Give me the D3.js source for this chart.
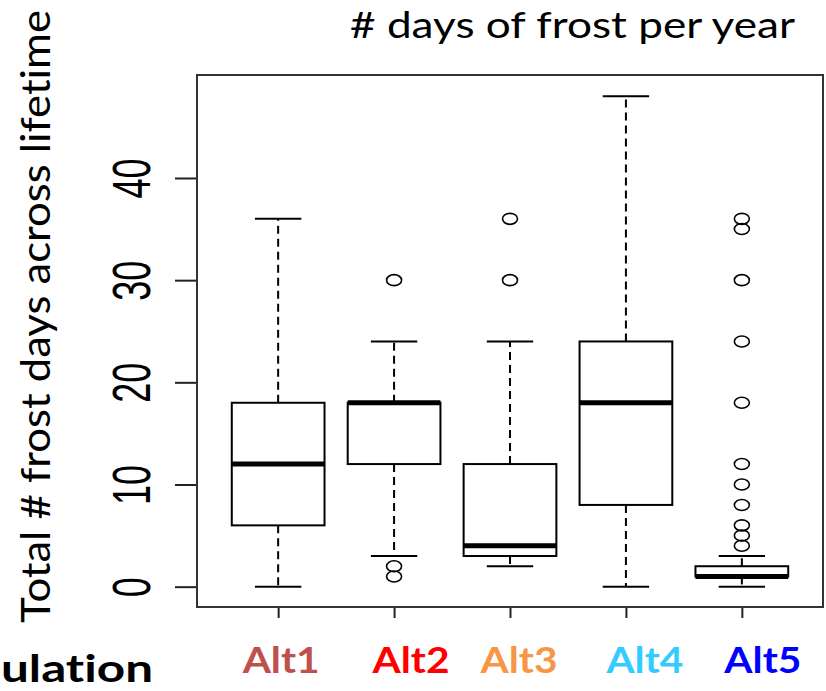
<!DOCTYPE html>
<html>
<head>
  <meta charset="utf-8">
  <style>
  body { margin: 0; background: #fff; }
  .axis .domain { display: none; }
  text { font-variant-ligatures: none; }
  </style>
  <script src="https://d3js.org/d3.v7.min.js"></script>
</head>
<body>
<script>
  // values
  var groups = ["Alt1", "Alt2", "Alt3", "Alt4", "Alt5"];
  var lowWhisker = [0, 3, 2, 0, 0];
  var q1 = [6, 12, 3, 8, 1];
  var medians = [12, 18, 4, 18, 1];
  var q3 = [18, 18, 12, 24, 2];
  var highWhisker = [36, 24, 24, 48, 3];
  var outliers = [[], [30, 2, 1], [36, 30], [], [36, 35, 30, 24, 18, 12, 10, 8, 6, 5, 4]];
  var yTicks = [0, 10, 20, 30, 40];

  var labelColors = ["#c0504d", "#ff0000", "#f79646", "#33ccff", "#0000ff"];
  var labelShift = [3, 17, 9, 19, 21];

  var canvasWidth = 826, canvasHeight = 691;
  var plot = {left: 197, right: 823, top: 75, bottom: 607};

  var svg = d3.select("body").append("svg")
      .attr("width", canvasWidth)
      .attr("height", canvasHeight);

  var x = d3.scaleLinear().domain([0.3, 5.7]).range([plot.left, plot.right]);
  var y = d3.scaleLinear().domain([-1.99, 50.08]).range([plot.bottom, plot.top]);

  var data = groups.map(function(g, i) {
    return {name: g, i: i + 1, lo: lowWhisker[i], q1: q1[i], med: medians[i],
            q3: q3[i], hi: highWhisker[i], out: outliers[i]};
  });

  // y axis, R style with rotated labels
  var yAxis = svg.append("g")
      .attr("class", "axis")
      .attr("transform", "translate(" + plot.left + ",0)")
      .call(d3.axisLeft(y).tickValues(yTicks).tickSize(22).tickFormat(d3.format("d")));
  yAxis.selectAll("line").attr("stroke", "#222").attr("stroke-width", 2);
  yAxis.selectAll("text")
      .attr("x", null).attr("dy", null)
      .attr("transform", "translate(-47,0) scale(1.5,1) rotate(-90)")
      .attr("text-anchor", "middle")
      .attr("font-family", "'Liberation Sans', Arial, sans-serif")
      .attr("font-size", 36)
      .attr("fill", "#000");

  // x axis ticks
  var xAxis = svg.append("g")
      .attr("class", "axis")
      .attr("transform", "translate(0," + plot.bottom + ")")
      .call(d3.axisBottom(x).tickValues(data.map(function(d) { return d.i; })).tickSize(11).tickFormat(""));
  xAxis.selectAll("line").attr("stroke", "#222").attr("stroke-width", 2);

  var box = svg.append("g").selectAll("g")
      .data(data)
      .enter().append("g");

  // whiskers
  box.append("line")
      .attr("x1", function(d) { return x(d.i); })
      .attr("x2", function(d) { return x(d.i); })
      .attr("y1", function(d) { return y(d.q3); })
      .attr("y2", function(d) { return y(d.hi); })
      .attr("stroke", "#000").attr("stroke-width", 2)
      .attr("stroke-dasharray", "8,5");
  box.append("line")
      .attr("x1", function(d) { return x(d.i); })
      .attr("x2", function(d) { return x(d.i); })
      .attr("y1", function(d) { return y(d.q1); })
      .attr("y2", function(d) { return y(d.lo); })
      .attr("stroke", "#000").attr("stroke-width", 2)
      .attr("stroke-dasharray", "8,5");

  // caps
  ["lo", "hi"].forEach(function(k) {
    box.append("line")
        .attr("x1", function(d) { return x(d.i - 0.2); })
        .attr("x2", function(d) { return x(d.i + 0.2); })
        .attr("y1", function(d) { return y(d[k]); })
        .attr("y2", function(d) { return y(d[k]); })
        .attr("stroke", "#000").attr("stroke-width", 2);
  });

  // boxes
  box.append("rect")
      .attr("x", function(d) { return x(d.i - 0.4); })
      .attr("width", function(d) { return x(d.i + 0.4) - x(d.i - 0.4); })
      .attr("y", function(d) { return y(d.q3); })
      .attr("height", function(d) { return y(d.q1) - y(d.q3); })
      .attr("fill", "#fff")
      .attr("stroke", "#000").attr("stroke-width", 2);

  // medians
  box.append("line")
      .attr("x1", function(d) { return x(d.i - 0.4); })
      .attr("x2", function(d) { return x(d.i + 0.4); })
      .attr("y1", function(d) { return y(d.med); })
      .attr("y2", function(d) { return y(d.med); })
      .attr("stroke", "#000").attr("stroke-width", 5);

  // outliers
  box.selectAll("ellipse")
      .data(function(d) { return d.out.map(function(v) { return {i: d.i, v: v}; }); })
      .enter().append("ellipse")
      .attr("cx", function(d) { return x(d.i); })
      .attr("cy", function(d) { return y(d.v); })
      .attr("rx", 7.5).attr("ry", 5.5)
      .attr("fill", "none")
      .attr("stroke", "#000").attr("stroke-width", 1.6);

  // frame
  svg.append("rect")
      .attr("x", plot.left).attr("y", plot.top)
      .attr("width", plot.right - plot.left)
      .attr("height", plot.bottom - plot.top)
      .attr("fill", "none")
      .attr("stroke", "#333").attr("stroke-width", 2);

  // group labels
  svg.append("g").selectAll("text")
      .data(data)
      .enter().append("text")
      .attr("x", function(d, i) { return x(d.i) + labelShift[i]; })
      .attr("y", 673)
      .attr("text-anchor", "middle")
      .attr("font-family", "Lato, sans-serif")
      .attr("font-weight", "bold")
      .attr("font-size", 37)
      .attr("textLength", 77)
      .attr("lengthAdjust", "spacingAndGlyphs")
      .attr("fill", function(d, i) { return labelColors[i]; })
      .text(function(d) { return d.name; });

  // title
  svg.append("text")
      .attr("x", 350).attr("y", 38)
      .attr("font-family", "Lato, sans-serif")
      .attr("font-size", 36)
      .attr("textLength", 445)
      .attr("lengthAdjust", "spacingAndGlyphs")
      .text("# days of frost per year");

  // y label
  svg.append("text")
      .attr("transform", "translate(50,623) rotate(-90)")
      .attr("font-family", "Lato, sans-serif")
      .attr("font-size", 40)
      .attr("textLength", 613)
      .attr("lengthAdjust", "spacingAndGlyphs")
      .text("Total # frost days across lifetime");

  // cut-off panel label at bottom left
  svg.append("text")
      .attr("x", 1).attr("y", 682)
      .attr("font-family", "Lato, sans-serif")
      .attr("font-weight", "bold")
      .attr("font-size", 38)
      .attr("textLength", 152)
      .attr("lengthAdjust", "spacingAndGlyphs")
      .text("ulation");
</script>
</body>
</html>
